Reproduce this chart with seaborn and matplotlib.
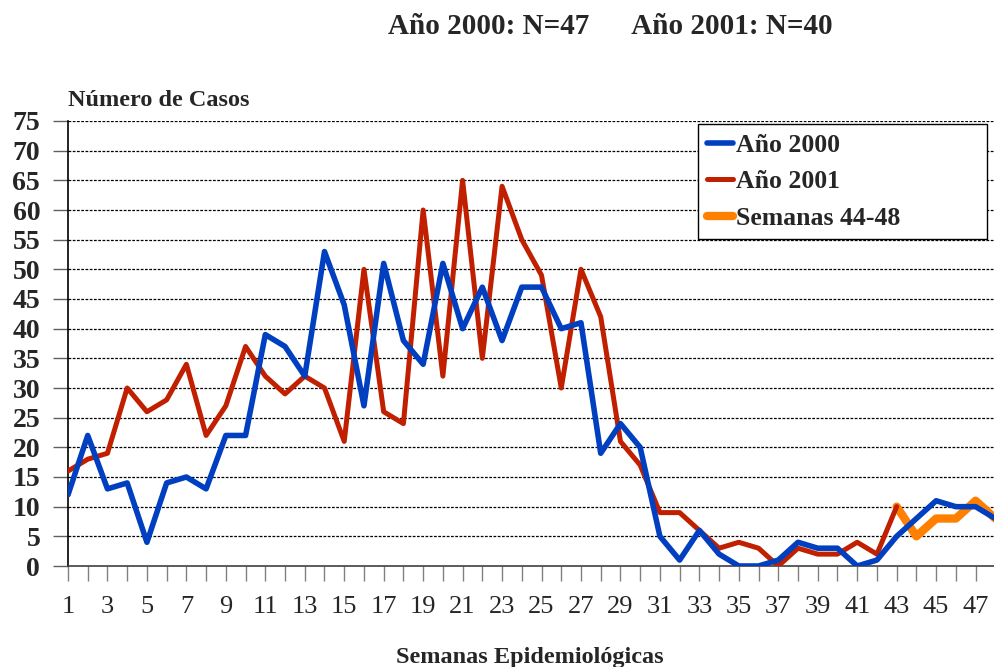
import matplotlib
matplotlib.use("Agg")
import matplotlib.pyplot as plt
import seaborn as sns
import pandas as pd

# Weekly case counts
semanas = list(range(1, 49))
casos_2000 = [12, 22, 13, 14, 4, 14, 15, 13, 22, 22, 39, 37, 32, 53, 44, 27,
              51, 38, 34, 51, 40, 47, 38, 47, 47, 40, 41, 19, 24, 20, 5, 1,
              6, 2, 0, 0, 1, 4, 3, 3, 0, 1, 5, 8, 11, 10, 10, 8]
semanas_2001 = list(range(1, 44))
casos_2001 = [16, 18, 19, 30, 26, 28, 34, 22, 27, 37, 32, 29, 32, 30, 21, 50,
              26, 24, 60, 32, 65, 35, 64, 55, 49, 30, 50, 42, 21, 17, 9, 9,
              6, 3, 4, 3, 0, 3, 2, 2, 4, 2, 10]
semanas_recientes = [43, 44, 45, 46, 47, 48]
casos_recientes = [10, 5, 8, 8, 11, 8]

x_tick_labels = [str(s) if s % 2 == 1 else "" for s in semanas[:47]]
y_ticks = list(range(0, 80, 5))

titulo = "Año 2000: N=47      Año 2001: N=40"
etiqueta_y = "Número de Casos"
etiqueta_x = "Semanas Epidemiológicas"

sns.set_style("white")
plt.rcParams["font.family"] = ["Liberation Serif", "DejaVu Serif"]

fig = plt.figure(figsize=(9.94, 6.67), dpi=100)
ax = fig.add_axes([68 / 994, 101 / 667, 926 / 994, 445 / 667])

df_2000 = pd.DataFrame({"semana": semanas, "casos": casos_2000})
df_2001 = pd.DataFrame({"semana": semanas_2001, "casos": casos_2001})
df_rec = pd.DataFrame({"semana": semanas_recientes, "casos": casos_recientes})

line_kw = dict(solid_joinstyle="round", solid_capstyle="round")
sns.lineplot(data=df_rec, x="semana", y="casos", ax=ax, color="#FF8000",
             linewidth=6.0, label="Semanas 44-48", zorder=3, **line_kw)
sns.lineplot(data=df_2001, x="semana", y="casos", ax=ax, color="#C02000",
             linewidth=3.6, label="Año 2001", zorder=4, **line_kw)
sns.lineplot(data=df_2000, x="semana", y="casos", ax=ax, color="#0040C0",
             linewidth=4.0, label="Año 2000", zorder=5, **line_kw)

ax.set_xlim(1, 1 + 926 / 19.73)
ax.set_ylim(0, 75)

# dashed horizontal grid
for v in y_ticks[1:]:
    ax.axhline(v, color="black", linewidth=0.9, linestyle=(0, (2.2, 1.2)),
               zorder=1)

ax.set_xticks(semanas[:47])
ax.set_xticklabels(x_tick_labels, fontsize=19)
ax.set_yticks(y_ticks)
ax.set_yticklabels([str(v) for v in y_ticks], fontsize=20, fontweight="bold")
ax.tick_params(axis="x", direction="out", length=10.8, width=1.0,
               color="#808080", pad=10.5, bottom=True)
ax.tick_params(axis="y", direction="out", length=11, width=1.0,
               color="#606060", pad=9, left=True)

ax.set_xlabel("")
ax.set_ylabel("")
for side in ["top", "right"]:
    ax.spines[side].set_visible(False)
ax.spines["left"].set_color("black")
ax.spines["left"].set_linewidth(1.2)
ax.spines["bottom"].set_color("#404040")
ax.spines["bottom"].set_linewidth(1.2)

handles, labels = ax.get_legend_handles_labels()
order = [labels.index(l) for l in ["Año 2000", "Año 2001", "Semanas 44-48"]]
leg = ax.legend([handles[i] for i in order], [labels[i] for i in order],
                loc="upper left", bbox_to_anchor=(0.680, 0.733, 0.312, 0.260),
                mode="expand", borderaxespad=0, frameon=True, fancybox=False,
                prop={"weight": "bold", "size": 18.5}, handlelength=1.0,
                handletextpad=0.1, labelspacing=0.52, borderpad=0.38)
leg.get_frame().set_edgecolor("black")
leg.get_frame().set_linewidth(1.0)
leg.get_frame().set_alpha(1.0)
leg.set_zorder(10)

fig.text(610 / 994, 1 - 27 / 667, titulo, ha="center", va="center",
         fontsize=21, fontweight="bold")
fig.text(68 / 994, 1 - 100 / 667, etiqueta_y, ha="left", va="center",
         fontsize=17.5, fontweight="bold")
fig.text(530 / 994, 1 - 658 / 667, etiqueta_x, ha="center", va="center",
         fontsize=17.5, fontweight="bold")

fig.savefig("out.png", dpi=100)
